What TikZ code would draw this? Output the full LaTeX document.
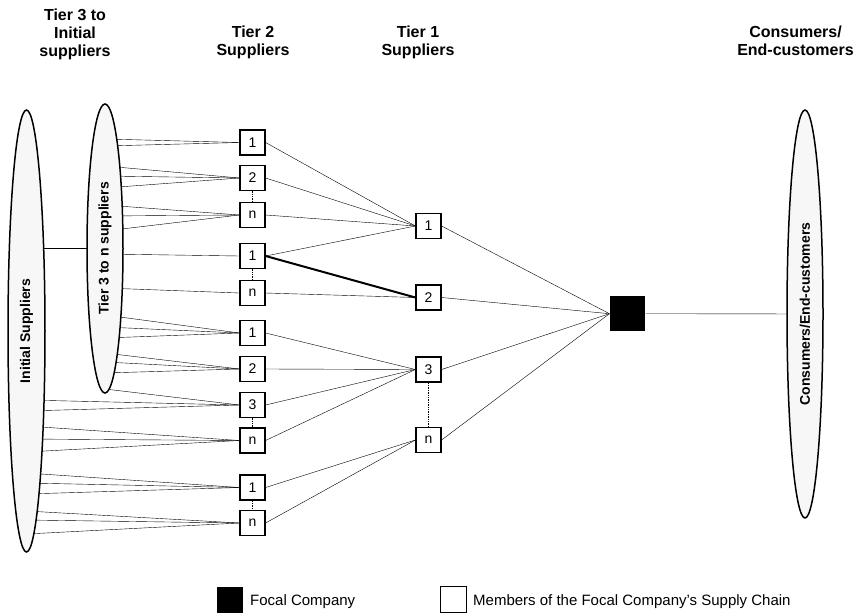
\documentclass[tikz,border=0pt]{standalone}
\usepackage{fontspec}
\setmainfont{Liberation Sans}
\usetikzlibrary{shapes}
\pgfdeclarelayer{spokes}
\pgfsetlayers{spokes,main}

\tikzset{
  member/.style={draw, fill=white, minimum size=25pt, inner sep=0pt, font=\fontsize{14}{16}\selectfont},
  focal/.style={fill=black, minimum size=35pt, inner sep=0pt},
  tierset/.style={ellipse, draw, line width=1.5pt, fill=black!3, inner sep=0pt},
  settext/.style={rotate=90, inner sep=0pt, font=\bfseries\fontsize{14}{16}\selectfont},
  head/.style={anchor=north, inner sep=0pt, align=center, font=\bfseries\fontsize{16}{18.3}\selectfont},
  keytext/.style={anchor=base west, inner sep=0pt, font=\fontsize{15}{18}\selectfont},
  same/.style={densely dotted, line width=1.4pt},
}

\begin{document}
\begin{tikzpicture}[x=1pt,y=-1pt,line width=1.2pt]
  \useasboundingbox (0,0) rectangle (860,616);
  \node[head] (h3) at (75,8) {Tier 3 to\\Initial\\suppliers};
  \node[head] (h2) at (253,25) {Tier 2\\Suppliers};
  \node[head] (h1) at (418,25) {Tier 1\\Suppliers};
  \node[head] (hc) at (795.5,25) {Consumers/\\End-customers};

  \node[tierset, minimum width=37pt, minimum height=442pt] (ini) at (26.5,331) {};
  \node[settext] (initxt) at (ini) {Initial Suppliers};
  \node[tierset, minimum width=36pt, minimum height=289pt] (tier3) at (105,248.5) {};
  \node[settext] (tier3txt) at (tier3) {Tier 3 to n suppliers};
  \node[tierset, minimum width=36pt, minimum height=408pt] (cons) at (805,314) {};
  \node[settext] (constxt) at (cons) {Consumers/End-customers};

  % tier 2
  \node[member] (p1) at (252.5,142.5) {1};
  \node[member] (p2) at (252.5,178) {2};
  \node[member] (p3) at (252.5,215) {n};
  \node[member] (p4) at (252.5,256) {1};
  \node[member] (p5) at (252.5,293) {n};
  \node[member] (p6) at (252.5,333) {1};
  \node[member] (p7) at (252.5,369) {2};
  \node[member] (p8) at (252.5,405) {3};
  \node[member] (p9) at (252.5,440.5) {n};
  \node[member] (p10) at (252.5,487.5) {1};
  \node[member] (p11) at (252.5,523) {n};
  % tier 1
  \node[member] (q1) at (428.5,226) {1};
  \node[member] (q2) at (428.5,297.5) {2};
  \node[member] (q3) at (428.5,369.5) {3};
  \node[member] (q4) at (428.5,440) {n};
  \node[focal] (F) at (627.5,313.7) {};

  \begin{pgfonlayer}{spokes}
    \draw (ini.center |- tier3.center) -- (tier3.center);
    \draw (F.east) -- (cons.center);
    \foreach \y in {139,146} \draw (tier3.center |- 0,\y) -- (p1.west);
    \foreach \y in {166,176,188} \draw (tier3.center |- 0,\y) -- (p2.west);
    \foreach \y in {205,216,231} \draw (tier3.center |- 0,\y) -- (p3.west);
    \draw (tier3.center |- 0,254) -- (p4.west);
    \draw (tier3.center |- 0,288) -- (p5.west);
    \foreach \y in {315,327,338} \draw (tier3.center |- 0,\y) -- (p6.west);
    \foreach \y in {353,362,373} \draw (tier3.center |- 0,\y) -- (p7.west);
    \draw (tier3.center |- 0,389) -- (p8.west);
    \foreach \y in {400,411} \draw (ini.center |- 0,\y) -- (p8.west);
    \foreach \y in {426,439,452} \draw (ini.center |- 0,\y) -- (p9.west);
    \foreach \y in {473,483,494} \draw (ini.center |- 0,\y) -- (p10.west);
    \foreach \y in {511,520,534} \draw (ini.center |- 0,\y) -- (p11.west);
  \end{pgfonlayer}

  \foreach \p in {p1,p2,p3,p4} \draw (\p.east) -- (q1.west);
  \draw[line width=2pt] (p4.east) -- (q2.west);
  \draw (p5.east) -- (q2.west);
  \foreach \p in {p6,p7,p8,p9} \draw (\p.east) -- (q3.west);
  \foreach \p in {p10,p11} \draw (\p.east) -- (q4.west);
  \foreach \q in {q1,q2,q3,q4} \draw (\q.east) -- (F.west);

  \draw[same] (p2) -- (p3);
  \draw[same] (p4) -- (p5);
  \draw[same] (p8) -- (p9);
  \draw[same] (p10) -- (p11);
  \draw[same] (q3) -- (q4);

  % key
  \node[focal, minimum size=26pt] (keyF) at (229.5,599.5) {};
  \node[keytext] (keyFtxt) at (250,605) {Focal Company};
  \node[member, minimum size=26pt] (keyM) at (453,599.5) {};
  \node[keytext] (keyMtxt) at (473,605) {Members of the Focal Company’s Supply Chain};
\end{tikzpicture}
\end{document}
